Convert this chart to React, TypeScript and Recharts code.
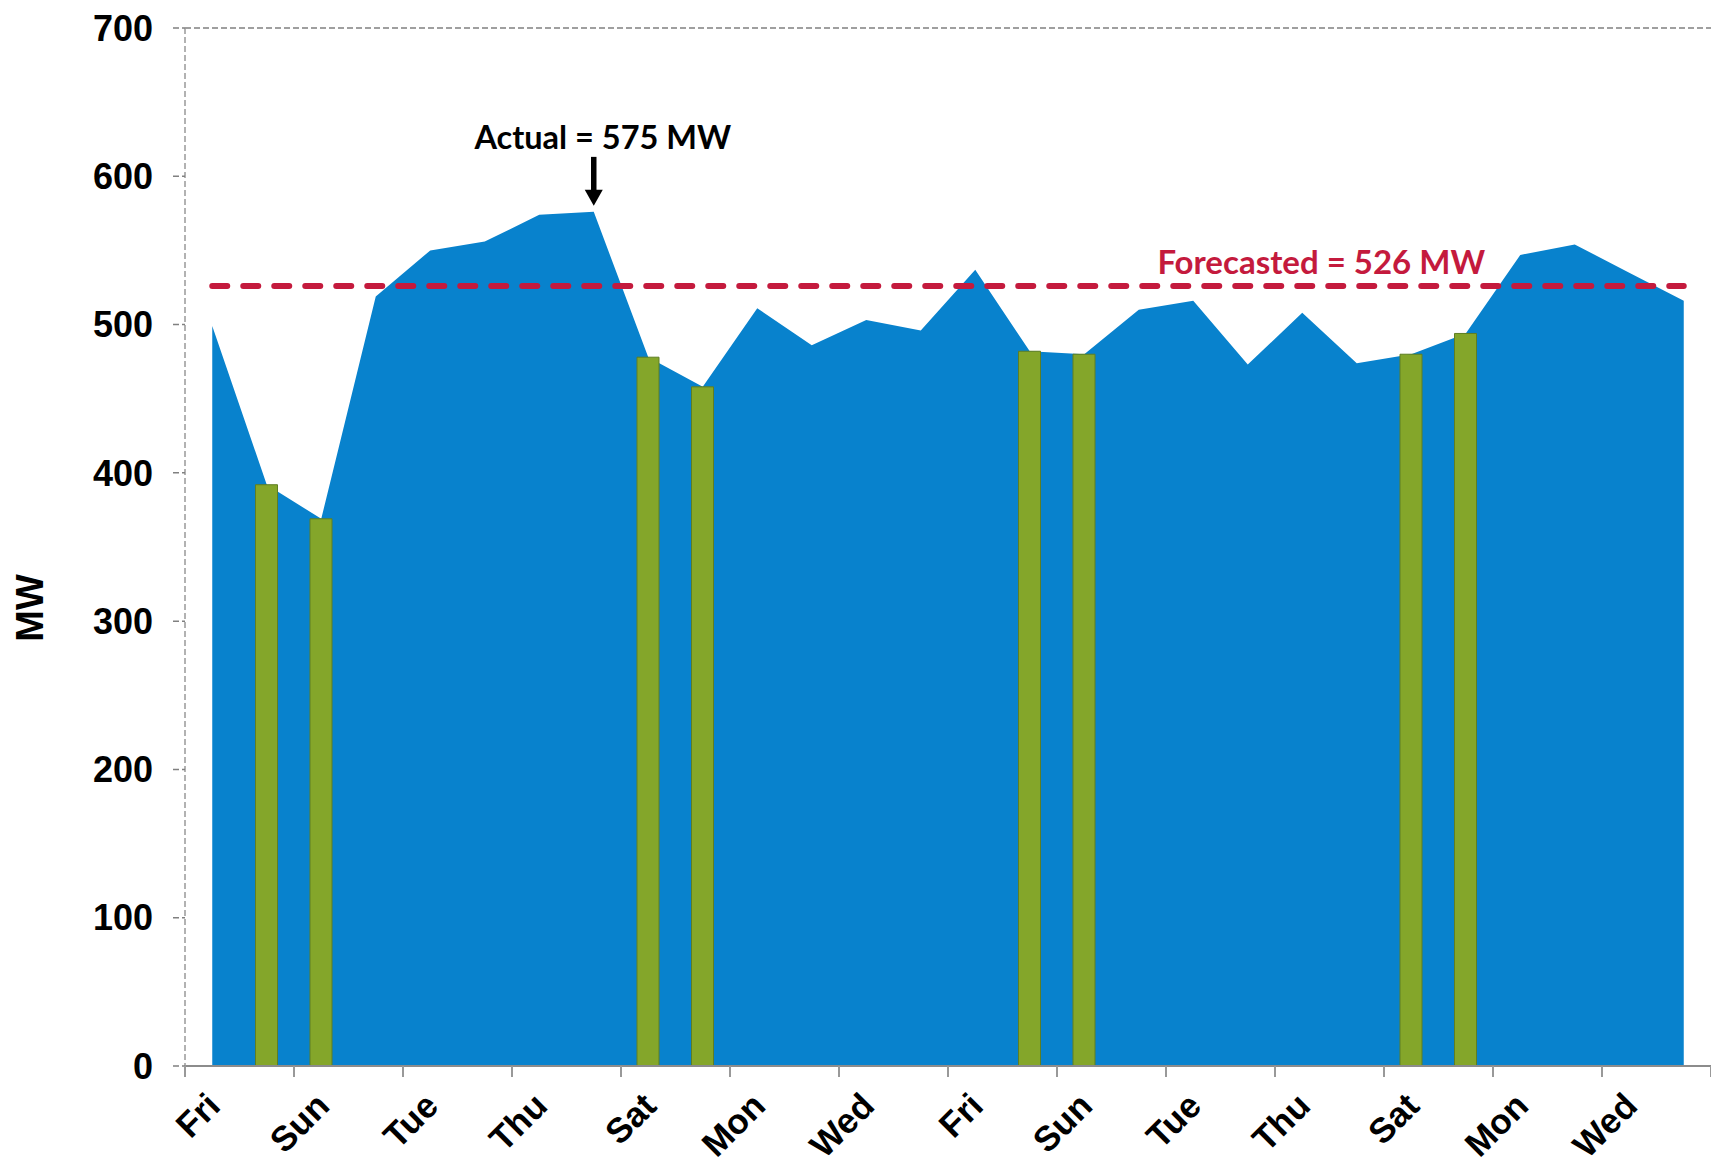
import { ComposedChart, Area, Bar, XAxis, YAxis, CartesianGrid, ReferenceLine, ReferenceDot } from "recharts";

// 4 weeks of daily peak load, Fri -> Thu
const DAYS = [
  "Fri", "Sat", "Sun", "Mon", "Tue", "Wed", "Thu",
  "Fri", "Sat", "Sun", "Mon", "Tue", "Wed", "Thu",
  "Fri", "Sat", "Sun", "Mon", "Tue", "Wed", "Thu",
  "Fri", "Sat", "Sun", "Mon", "Tue", "Wed", "Thu",
];
const LOAD = [
  499, 392, 369, 519, 550, 556, 574,
  576, 478, 458, 511, 486, 503, 496,
  537, 482, 480, 510, 516, 473, 508,
  474, 480, 494, 547, 554, 535, 516,
];
// weekend days highlighted in green
const WEEKEND = [
  null, 392, 369, null, null, null, null,
  null, 478, 458, null, null, null, null,
  null, 482, 480, null, null, null, null,
  null, 480, 494, null, null, null, null,
];
const Y_TICKS = [0, 100, 200, 300, 400, 500, 600, 700];
const FORECAST = 526;
const PEAK_DAY = 7;

const rows = DAYS.map((day, i) => ({ i, day, load: LOAD[i], weekend: WEEKEND[i] }));

const W = 1711;
const H = 1160;
const M = { top: 20, right: 8, left: 0, bottom: 22 };
const Y_W = 177;
const X_H = 80;
const BAND = (W - M.left - M.right - Y_W) / DAYS.length;

const AXIS_FONT = "'Liberation Sans', Arial, sans-serif";
const NOTE_FONT = "Lato, 'Open Sans', sans-serif";
const RED = "#C41A3D";

function DayTick(props: any) {
  const { x, y, payload } = props;
  const i = payload.value as number;
  const marks: number[] = [];
  if (i % 2 === 0) marks.push(x - BAND / 2);
  if (i === DAYS.length - 1) marks.push(x + BAND / 2);
  const tx = x + 10;
  const ty = y + 42;
  return (
    <g>
      {marks.map((mx, k) => (
        <line key={k} x1={mx} x2={mx} y1={y} y2={y + 11} stroke="#999" strokeWidth={2} />
      ))}
      {i % 2 === 0 && (
        <text x={tx} y={ty} transform={`rotate(-45 ${tx} ${ty})`} textAnchor="end"
          fontFamily={AXIS_FONT} fontWeight="bold" fontSize={35} fill="#000">
          {DAYS[i]}
        </text>
      )}
    </g>
  );
}

function ActualMark(props: any) {
  const { cx, cy } = props;
  return (
    <g>
      <line x1={cx} x2={cx} y1={cy - 55} y2={cy - 20} stroke="#000" strokeWidth={5.5} />
      <polygon points={`${cx - 9},${cy - 22} ${cx + 9},${cy - 22} ${cx},${cy - 6}`} fill="#000" />
      <text x={cx + 9} y={cy - 63} textAnchor="middle" fontFamily={NOTE_FONT} fontWeight="bold" fontSize={32.5} fill="#000">
        Actual = 575 MW
      </text>
    </g>
  );
}

function ForecastNote(props: any) {
  const { cx, cy } = props;
  return (
    <text x={cx + 19} y={cy - 12} textAnchor="middle" fontFamily={NOTE_FONT} fontWeight="bold" fontSize={33} fill={RED}>
      Forecasted = 526 MW
    </text>
  );
}

function MwLabel(props: any) {
  const { viewBox } = props;
  const x = viewBox.x + 22;
  const y = viewBox.y + viewBox.height / 2 + 61;
  return (
    <text x={x} y={y} transform={`rotate(-90 ${x} ${y})`} textAnchor="middle" dominantBaseline="central"
      fontFamily={AXIS_FONT} fontWeight="bold" fontSize={38} fill="#000">
      MW
    </text>
  );
}

export default function App() {
  return (
    <div style={{ width: W, height: H }}>
      <ComposedChart width={W} height={H} data={rows} margin={M}>
        <CartesianGrid vertical={false} stroke="#808080" strokeDasharray="6 3" strokeWidth={1.5} />
        <XAxis dataKey="i" type="category" interval={0} height={X_H} tickSize={0} tickMargin={0} tickLine={false}
          axisLine={{ stroke: "#8c8c8c", strokeWidth: 2 }} tick={<DayTick />} />
        <YAxis yAxisId="left" width={Y_W} domain={[0, 700]} ticks={Y_TICKS} interval={0} tickSize={12} tickMargin={20}
          axisLine={{ stroke: "#999", strokeDasharray: "6 3", strokeWidth: 1.5 }}
          tickLine={{ stroke: "#808080", strokeDasharray: "6 3", strokeWidth: 1.5 }}
          tick={{ fontFamily: AXIS_FONT, fontWeight: "bold", fontSize: 36, fill: "#000" }}
          label={<MwLabel />} />
        <YAxis yAxisId="right" orientation="right" width={0} tick={false} tickLine={false}
          axisLine={{ stroke: "#aaa", strokeWidth: 2 }} />
        <Area yAxisId="left" type="linear" dataKey="load" fill="#0882CD" fillOpacity={1} stroke="none"
          isAnimationActive={false} />
        <Bar yAxisId="left" dataKey="weekend" barSize={22} fill="#84A62A" stroke="#5E7E22" strokeWidth={1}
          isAnimationActive={false} />
        <ReferenceLine yAxisId="left" segment={[{ x: 0, y: FORECAST }, { x: DAYS.length - 1, y: FORECAST }]}
          stroke={RED} strokeWidth={6} strokeDasharray="15 16" strokeLinecap="round" />
        <ReferenceDot yAxisId="left" x={PEAK_DAY} y={LOAD[PEAK_DAY]} shape={<ActualMark />} />
        <ReferenceDot yAxisId="left" x={20} y={FORECAST} shape={<ForecastNote />} />
      </ComposedChart>
    </div>
  );
}
